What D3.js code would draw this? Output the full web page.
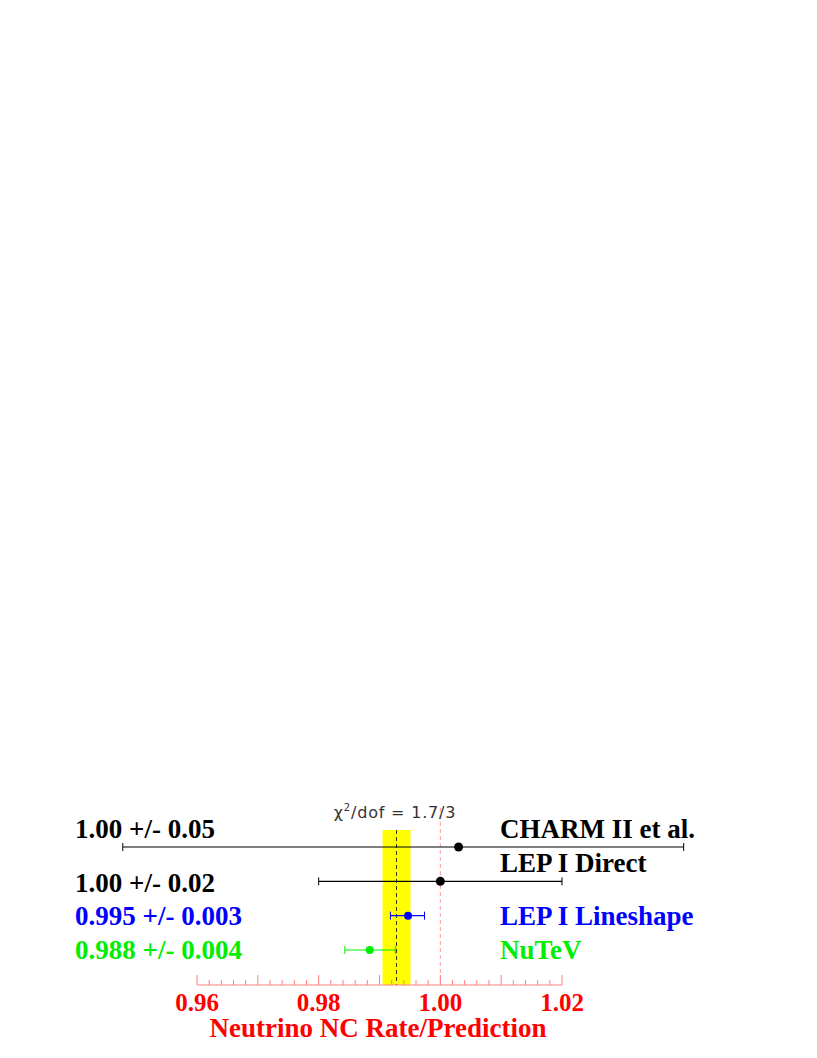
<!DOCTYPE html>
<html><head><meta charset="utf-8">
<script src="https://cdn.jsdelivr.net/npm/d3@7"></script>
<style>body{margin:0;background:#fff}</style></head>
<body><script>
const names = ["CHARM II et al.", "LEP I Direct", "LEP I Lineshape", "NuTeV"];
const valueLabels = ["1.00 +/- 0.05", "1.00 +/- 0.02", "0.995 +/- 0.003", "0.988 +/- 0.004"];
const centers = [1.003, 1.000, 0.9947, 0.9884];
const lows = [0.9478, 0.980, 0.9918, 0.9843];
const highs = [1.040, 1.020, 0.9974, 0.9926];
const colors = ["#000", "#000", "#0000ff", "#00ee00"];
const bandLow = 0.9905, bandHigh = 0.9951, fitMean = 0.9928;
const tickLabels = ["0.96", "0.98", "1.00", "1.02"];
const tickValues = [0.96, 0.98, 1.00, 1.02];

const W = 817, H = 1058;
const svg = d3.select("body").append("svg").attr("width", W).attr("height", H);
const x = d3.scaleLinear().domain([0.96, 1.02]).range([197, 562]);
const y = d3.scalePoint().domain(names).range([847, 950]);
const axisY = 985;
const serif = "'Liberation Serif','Times New Roman',serif";

svg.append("rect").attr("x", x(bandLow)).attr("width", x(bandHigh) - x(bandLow))
  .attr("y", 830).attr("height", axisY - 830).attr("fill", "#ffff00");
svg.append("line").attr("x1", x(fitMean)).attr("x2", x(fitMean)).attr("y1", 830).attr("y2", axisY)
  .attr("stroke", "#000").attr("stroke-width", 0.8).attr("stroke-dasharray", "4,3");
svg.append("line").attr("x1", x(1)).attr("x2", x(1)).attr("y1", 808).attr("y2", axisY)
  .attr("stroke", "#ff8080").attr("stroke-width", 0.8).attr("stroke-dasharray", "4,3");

// axis
const ticks = d3.range(0, 31).map(i => 0.96 + i * 0.002);
const ag = svg.append("g");
ag.append("line").attr("x1", x(0.96)).attr("x2", x(1.02)).attr("y1", axisY).attr("y2", axisY)
  .attr("stroke", "#ff8080");
ag.selectAll(".t").data(ticks).join("line")
  .attr("x1", d => x(d)).attr("x2", d => x(d)).attr("y1", axisY)
  .attr("y2", (d, i) => i % 5 === 0 ? axisY - 10 : axisY - 5).attr("stroke", "#ff8080");
ag.selectAll(".l").data(tickValues).join("text")
  .attr("x", d => x(d)).attr("y", 1011).attr("text-anchor", "middle")
  .attr("font-family", serif).attr("font-weight", "bold").attr("font-size", 25).attr("fill", "#ff0000")
  .text((d, i) => tickLabels[i]);
svg.append("text").attr("x", 378).attr("y", 1037).attr("text-anchor", "middle")
  .attr("font-family", serif).attr("font-weight", "bold").attr("font-size", 27).attr("fill", "#ff0000")
  .text("Neutrino NC Rate/Prediction");

// chi2
const chi = svg.append("text").attr("x", 395).attr("y", 818).attr("text-anchor", "middle")
  .attr("font-family", "'DejaVu Sans',sans-serif").attr("font-size", 16).attr("letter-spacing", 0.8).attr("fill", "#333");
chi.append("tspan").text("χ");
chi.append("tspan").attr("dy", -7).attr("font-size", 10).text("2");
chi.append("tspan").attr("dy", 7).text("/dof = 1.7/3");

// error bars
const g = svg.append("g");
names.forEach((n, i) => {
  const yy = y(n), c = colors[i], cap = 4;
  g.append("line").attr("x1", x(lows[i])).attr("x2", x(highs[i])).attr("y1", yy).attr("y2", yy).attr("stroke", c).attr("stroke-width", 1.2);
  [lows[i], highs[i]].forEach(v => g.append("line").attr("x1", x(v)).attr("x2", x(v)).attr("y1", yy - cap).attr("y2", yy + cap).attr("stroke", c));
  g.append("circle").attr("cx", x(centers[i])).attr("cy", yy).attr("r", i < 2 ? 4.5 : 4).attr("fill", c);
});

// labels
const leftY = [838, 892, 925, 959];
const rightY = [838, 872, 925, 959];
names.forEach((n, i) => {
  svg.append("text").attr("x", 75).attr("y", leftY[i]).attr("font-family", serif).attr("font-weight", "bold")
    .attr("font-size", 27).attr("fill", colors[i]).text(valueLabels[i]);
  svg.append("text").attr("x", 500).attr("y", rightY[i]).attr("font-family", serif).attr("font-weight", "bold")
    .attr("font-size", 27).attr("fill", colors[i]).text(n);
});
</script></body></html>
